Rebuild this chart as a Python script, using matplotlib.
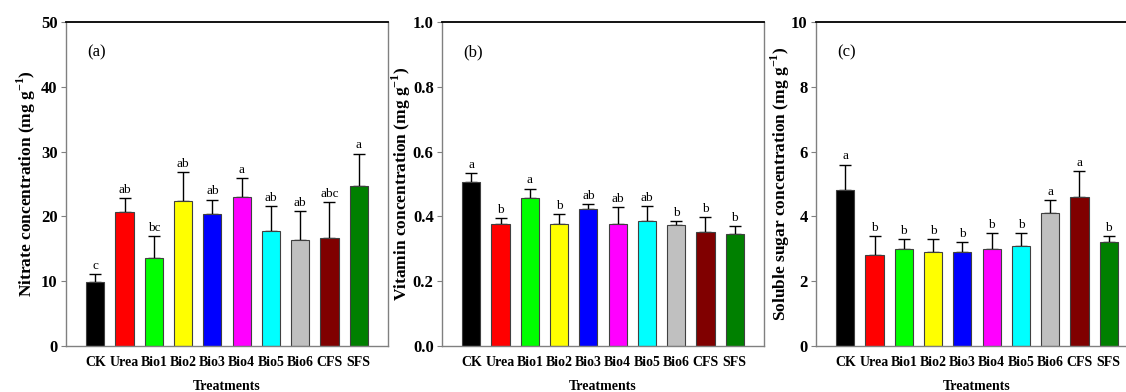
import numpy as np
import matplotlib
matplotlib.use("Agg")
import matplotlib.pyplot as plt

plt.rcParams['font.family'] = ['Liberation Serif', 'DejaVu Serif']
plt.rcParams['mathtext.fontset'] = 'custom'
plt.rcParams['mathtext.rm'] = 'Liberation Serif'
plt.rcParams['mathtext.bf'] = 'Liberation Serif:bold'

# data
treatments = ["CK", "Urea", "Bio1", "Bio2", "Bio3", "Bio4", "Bio5", "Bio6", "CFS", "SFS"]
bar_colors = ["#000000", "#ff0000", "#00ff00", "#ffff00", "#0000ff",
              "#ff00ff", "#00ffff", "#c0c0c0", "#800000", "#008000"]

nitrate = [9.9, 20.7, 13.6, 22.3, 20.3, 23.0, 17.7, 16.4, 16.7, 24.7]
nitrate_top = [11.1, 22.9, 16.9, 26.8, 22.6, 25.9, 21.6, 20.8, 22.2, 29.7]
nitrate_letters = ["c", "ab", "bc", "ab", "ab", "a", "ab", "ab", "abc", "a"]

vitamin = [0.505, 0.377, 0.456, 0.377, 0.422, 0.377, 0.386, 0.373, 0.353, 0.347]
vitamin_top = [0.533, 0.396, 0.486, 0.407, 0.439, 0.428, 0.433, 0.385, 0.399, 0.371]
vitamin_letters = ["a", "b", "a", "b", "ab", "ab", "ab", "b", "b", "b"]

sugar = [4.8, 2.8, 3.0, 2.9, 2.9, 3.0, 3.1, 4.1, 4.6, 3.2]
sugar_top = [5.6, 3.4, 3.3, 3.3, 3.2, 3.5, 3.5, 4.5, 5.4, 3.4]
sugar_letters = ["a", "b", "b", "b", "b", "b", "b", "a", "a", "b"]

panels = [
    ("(a)", nitrate, nitrate_top, nitrate_letters, 50, [0, 10, 20, 30, 40, 50], "%d",
     r"Nitrate concentration (mg g$^{\mathbf{-1}}$)"),
    ("(b)", vitamin, vitamin_top, vitamin_letters, 1.0, [0, 0.2, 0.4, 0.6, 0.8, 1.0], "%.1f",
     r"Vitamin concentration (mg g$^{\mathbf{-1}}$)"),
    ("(c)", sugar, sugar_top, sugar_letters, 10, [0, 2, 4, 6, 8, 10], "%d",
     r"Soluble sugar concentration (mg g$^{\mathbf{-1}}$)"),
]

W, H = 1126, 392
fig = plt.figure(figsize=(W / 100, H / 100), dpi=100)
lefts = [66, 442, 816]
label_pads = [2.5, -0.5, -0.5]

for left, lpad, (tag, vals, tops, letters, ymax, yticks, fmt, ylab) in zip(lefts, label_pads, panels):
    ax = fig.add_axes([left / W, (H - 346) / H, 322 / W, 324 / H])
    x = np.arange(1, len(vals) + 1)
    vals = np.array(vals)
    tops = np.array(tops)
    ax.bar(x, vals, width=0.62, color=bar_colors, edgecolor="#404040", linewidth=0.8, zorder=2)
    ax.errorbar(x, vals, yerr=[np.zeros_like(vals), tops - vals], fmt="none",
                ecolor="black", elinewidth=1, capsize=4, capthick=1, zorder=1)
    for xi, t, lab in zip(x, tops, letters):
        ax.annotate(lab, (xi, t), xytext=(0, 1.5), textcoords="offset points",
                    ha="center", va="bottom", fontsize=9.5)

    ax.set_xlim(0, 11)
    ax.set_ylim(0, ymax)
    ax.set_yticks(yticks)
    ax.set_yticklabels([fmt % v for v in yticks], fontweight="bold", fontsize=12)
    ax.set_xticks(x)
    ax.set_xticklabels(treatments, fontweight="bold", fontsize=10)
    ax.tick_params(axis="x", length=0, pad=7)
    ax.tick_params(axis="y", length=3.5, width=0.8, color="#808080", pad=2.5)

    for s in ["left", "right", "bottom"]:
        ax.spines[s].set_color("#808080")
        ax.spines[s].set_linewidth(1)
    ax.spines["top"].set_color("black")
    ax.spines["top"].set_linewidth(1.3)

    ax.set_ylabel(ylab, fontweight="bold", fontsize=12.5, labelpad=lpad)
    ax.set_xlabel("Treatments", fontweight="bold", fontsize=10, labelpad=8)
    ax.text(0.065, 0.905, tag, transform=ax.transAxes, fontsize=12, va="center", ha="left")

fig.savefig("out.png", dpi=100)
